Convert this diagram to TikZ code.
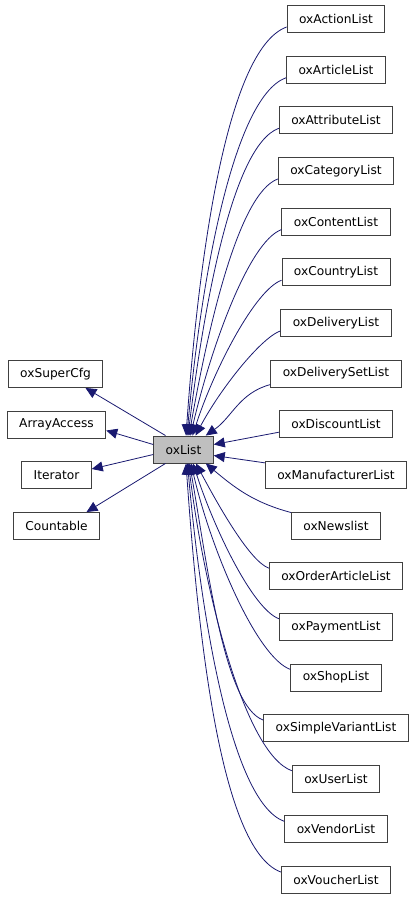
\documentclass[tikz,border=0pt]{standalone}
\usepackage{fontspec}
\setmainfont{DejaVu Sans}
\usetikzlibrary{arrows.meta}
\definecolor{edgeblue}{HTML}{191970}
\definecolor{boxgray}{HTML}{404040}
\begin{document}
\begin{tikzpicture}
		[x=1pt, y=-1pt,
		every node/.style={draw=boxgray, line width=0.9pt, minimum height=27pt, inner xsep=12pt,
			font=\fontsize{12.2pt}{14pt}\selectfont, text=black},
		cls/.style={fill=white},
		current/.style={fill=black!25},
		inherit/.style={draw=edgeblue, line width=0.8pt, -{Triangle[length=11pt,width=10pt]}},
		]
		\useasboundingbox (0,0) rectangle (416,899);

		\node[current] (list) at (183.5,449.5) {oxList};

		% Basisklassen links
		\node[cls] (supercfg) at (55.5,374) {oxSuperCfg};
		\node[cls] (arrayaccess) at (56.5,424.5) {ArrayAccess};
		\node[cls] (iterator) at (56.5,475) {Iterator};
		\node[cls] (countable) at (56.5,526) {Countable};

		% abgeleitete Klassen rechts
		\foreach \n/\t [count=\k from 0] in {action/oxActionList, article/oxArticleList,
			attribute/oxAttributeList, category/oxCategoryList, content/oxContentList,
			country/oxCountryList, delivery/oxDeliveryList, deliveryset/oxDeliverySetList,
			discount/oxDiscountList, manufacturer/oxManufacturerList, news/oxNewslist,
			orderarticle/oxOrderArticleList, payment/oxPaymentList, shop/oxShopList,
			simplevariant/oxSimpleVariantList, user/oxUserList, vendor/oxVendorList,
			voucher/oxVoucherList}
			\node[cls] (\n) at (336,19+50.65*\k) {\t};

		\draw[inherit] ([xshift=-18pt]list.north) -- ([xshift=30pt]supercfg.south);
		\draw[inherit] ([yshift=5pt]list.west) -- ([yshift=-6pt]arrayaccess.east);
		\draw[inherit] ([yshift=-5pt]list.west) -- ([yshift=6pt]iterator.east);
		\draw[inherit] ([xshift=-18pt]list.south) -- ([xshift=30pt]countable.north);

		\foreach \n/\d/\i in {action/2.5/86, article/3.5/85, attribute/4.5/83, category/5.5/80,
			content/7/77, country/9/72, delivery/12/62}
			\draw[inherit] ([yshift=-8pt]\n.west) to[out=200, in=\i, out looseness=0.4] ([xshift=\d pt]list.north);

		\foreach \n/\d/\i in {voucher/2.5/-86, vendor/4/-85, user/5/-83, simplevariant/6/-80,
			shop/7.5/-77, payment/9.5/-72, orderarticle/12.5/-62}
			\draw[inherit] ([yshift=8pt]\n.west) to[out=160, in=\i, out looseness=0.4] ([xshift=\d pt]list.south);

		\draw[inherit] ([yshift=-11pt]deliveryset.west) to[out=195, in=35] ([xshift=-8pt]list.north east);
		\draw[inherit] ([yshift=-8pt]discount.west) -- ([yshift=5pt]list.east);
		\draw[inherit] ([yshift=12pt]manufacturer.west) -- ([yshift=-6pt]list.east);
		\draw[inherit] ([yshift=13pt]news.west) to[out=165, in=-40] ([xshift=-8pt]list.south east);
\end{tikzpicture}
\end{document}
